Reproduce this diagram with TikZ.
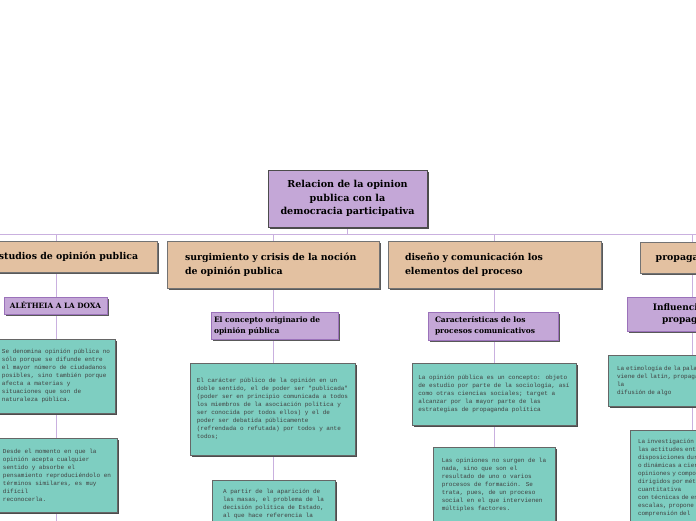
\documentclass[tikz,border=0pt]{standalone}
\usepackage{fontspec}
\newfontfamily\headfont{DejaVu Serif}
\newfontfamily\notefont{Liberation Mono}
\usetikzlibrary{shadows,backgrounds}
\definecolor{lila}{HTML}{C4A7D7}
\definecolor{lilaline}{HTML}{9B72BA}
\definecolor{tan}{HTML}{E3C1A1}
\definecolor{teal2}{HTML}{7ECEC1}
\definecolor{linkcol}{HTML}{C9B0DF}

\begin{document}
\begin{tikzpicture}
        [x=1pt, y=-1pt,
        root/.style={rectangle, draw=black!70, fill=lila, align=center, inner sep=0pt, font=\headfont\bfseries\fontsize{9.6}{13.5}\selectfont, drop shadow={shadow xshift=2pt, shadow yshift=-2pt, fill=black!70, opacity=1}},
        head/.style={rectangle, draw=black!55, fill=tan, inner sep=0pt, font=\headfont\bfseries\fontsize{9.4}{13.5}\selectfont, drop shadow={shadow xshift=2pt, shadow yshift=-2pt, fill=black!65, opacity=1}},
        sub/.style={rectangle, draw=lilaline, fill=lila, inner sep=0pt, font=\headfont\bfseries\fontsize{7.5}{11}\selectfont, drop shadow={shadow xshift=2pt, shadow yshift=-2pt, fill=black!65, opacity=1}},
        note/.style={rectangle, draw=black!60, fill=teal2, align=left, inner sep=0pt, text=black!75, font=\notefont\fontsize{6}{8}\selectfont, drop shadow={shadow xshift=2pt, shadow yshift=-2pt, fill=black!70, opacity=1}},
        link/.style={draw=linkcol, line width=1pt}]
        \useasboundingbox (0,0) rectangle (696,520);

        \node[root, minimum width=159, minimum height=57] (R) at (347.5,198.5) {Relacion de la opinion\\publica con la\\democracia participativa};

        \node[head, align=center, minimum width=184, minimum height=31] (A) at (65,256.5) {Estudios de opinión publica};
        \node[head, align=left, inner xsep=18, text width=176, minimum height=47] (B) at (273,264.5) {surgimiento y crisis de la noción\\de opinión publica};
        \node[head, align=left, inner xsep=17, text width=179, minimum height=47] (C) at (494.5,264.5) {diseño y comunicación los\\elementos del proceso};
        \node[head, align=center, minimum width=94, minimum height=31] (D) at (687,257.5) {propaganda};

        \node[sub, align=center, minimum width=103, minimum height=17, font=\headfont\bfseries\fontsize{7.3}{8}\selectfont] (A1) at (55.5,305.5) {ALÉTHEIA A LA DOXA};
        \node[sub, align=left, inner xsep=3, text width=121, minimum height=27] (B1) at (274.5,325.5) {El concepto originario de\\opinión pública};
        \node[sub, align=left, inner xsep=7, text width=116, minimum height=28] (C1) at (493,326) {Características de los\\procesos comunicativos};
        \node[sub, align=center, minimum width=130, minimum height=34, font=\headfont\bfseries\fontsize{9}{12}\selectfont] (D1) at (692,314) {Influencia de la\\propaganda};

        \node[note, minimum width=118, minimum height=74] (A2) at (56,376) {Se denomina opinión pública no\\sólo porque se difunde entre\\el mayor número de ciudadanos\\posibles, sino también porque\\afecta a materias y\\situaciones que son de\\naturaleza pública.};
        \node[note, minimum width=120, minimum height=74] (A3) at (57,475) {Desde el momento en que la\\opinión acepta cualquier\\sentido y absorbe el\\pensamiento reproduciéndolo en\\términos similares, es muy\\difícil\\reconocerla.};
        \node[note, minimum width=165, minimum height=92] (B2) at (272.5,409) {El carácter público de la opinión en un\\doble sentido, el de poder ser "publicada"\\(poder ser en principio comunicada a todos\\los miembros de la asociación política y\\ser conocida por todos ellos) y el de\\poder ser debatida públicamente\\(refrendada o refutada) por todos y ante\\todos;};
        \node[note, minimum width=123, minimum height=48] (B3) at (273.5,504) {A partir de la aparición de\\las masas, el problema de la\\decisión política de Estado,\\al que hace referencia la};
        \node[note, minimum width=164, minimum height=62] (C2) at (494,394) {La opinión pública es un concepto: objeto\\de estudio por parte de la sociología, así\\como otras ciencias sociales; target a\\alcanzar por la mayor parte de las\\estrategias de propaganda política};
        \node[note, minimum width=122, minimum height=75] (C3) at (494,484.5) {Las opiniones no surgen de la\\nada, sino que son el\\resultado de uno o varios\\procesos de formación. Se\\trata, pues, de un proceso\\social en el que intervienen\\múltiples factores.};
        \node[note, inner xsep=9, text width=162, minimum height=51] (D2) at (698,380.5) {La etimología de la palabra propaganda\\viene del latín, propagare, que significa\\la\\difusión de algo};
        \node[note, inner xsep=8, text width=140, minimum height=96] (D3) at (708,478) {La investigación de\\las actitudes entendidas como\\disposiciones duraderas\\o dinámicas a ciertas\\opiniones y comportamientos\\dirigidos por métodos\\cuantitativa\\con técnicas de encuesta y\\escalas, propone la\\comprensión del};

        \coordinate (hl) at (-10,234);
        \coordinate (hr) at (706,234);
        \coordinate (c1) at (56,234);
        \coordinate (c2) at (273,234);
        \coordinate (c3) at (494,234);
        \coordinate (c4) at (692,234);
        \coordinate (e1) at (56,530);

        \begin{scope}[on background layer]
        \draw[link] (R.south) -- (R.south |- hl);
        \draw[link] (hl) -- (hr);

        \draw[link] (c1) -- (c1 |- A.north);
        \draw[link] (c1 |- A.south) -- (c1 |- A1.north);
        \draw[link] (c1 |- A1.south) -- (c1 |- A2.north);
        \draw[link] (c1 |- A2.south) -- (c1 |- A3.north);
        \draw[link] (c1 |- A3.south) -- (e1);

        \draw[link] (c2) -- (c2 |- B.north);
        \draw[link] (c2 |- B.south) -- (c2 |- B1.north);
        \draw[link] (c2 |- B1.south) -- (c2 |- B2.north);
        \draw[link] (c2 |- B2.south) -- (c2 |- B3.north);

        \draw[link] (c3) -- (c3 |- C.north);
        \draw[link] (c3 |- C.south) -- (c3 |- C1.north);
        \draw[link] (c3 |- C1.south) -- (c3 |- C2.north);
        \draw[link] (c3 |- C2.south) -- (c3 |- C3.north);

        \draw[link] (c4) -- (c4 |- D.north);
        \draw[link] (c4 |- D.south) -- (c4 |- D1.north);
        \draw[link] (c4 |- D1.south) -- (c4 |- D2.north);
        \draw[link] (c4 |- D2.south) -- (c4 |- D3.north);
        \end{scope}

    \end{tikzpicture}
\end{document}
